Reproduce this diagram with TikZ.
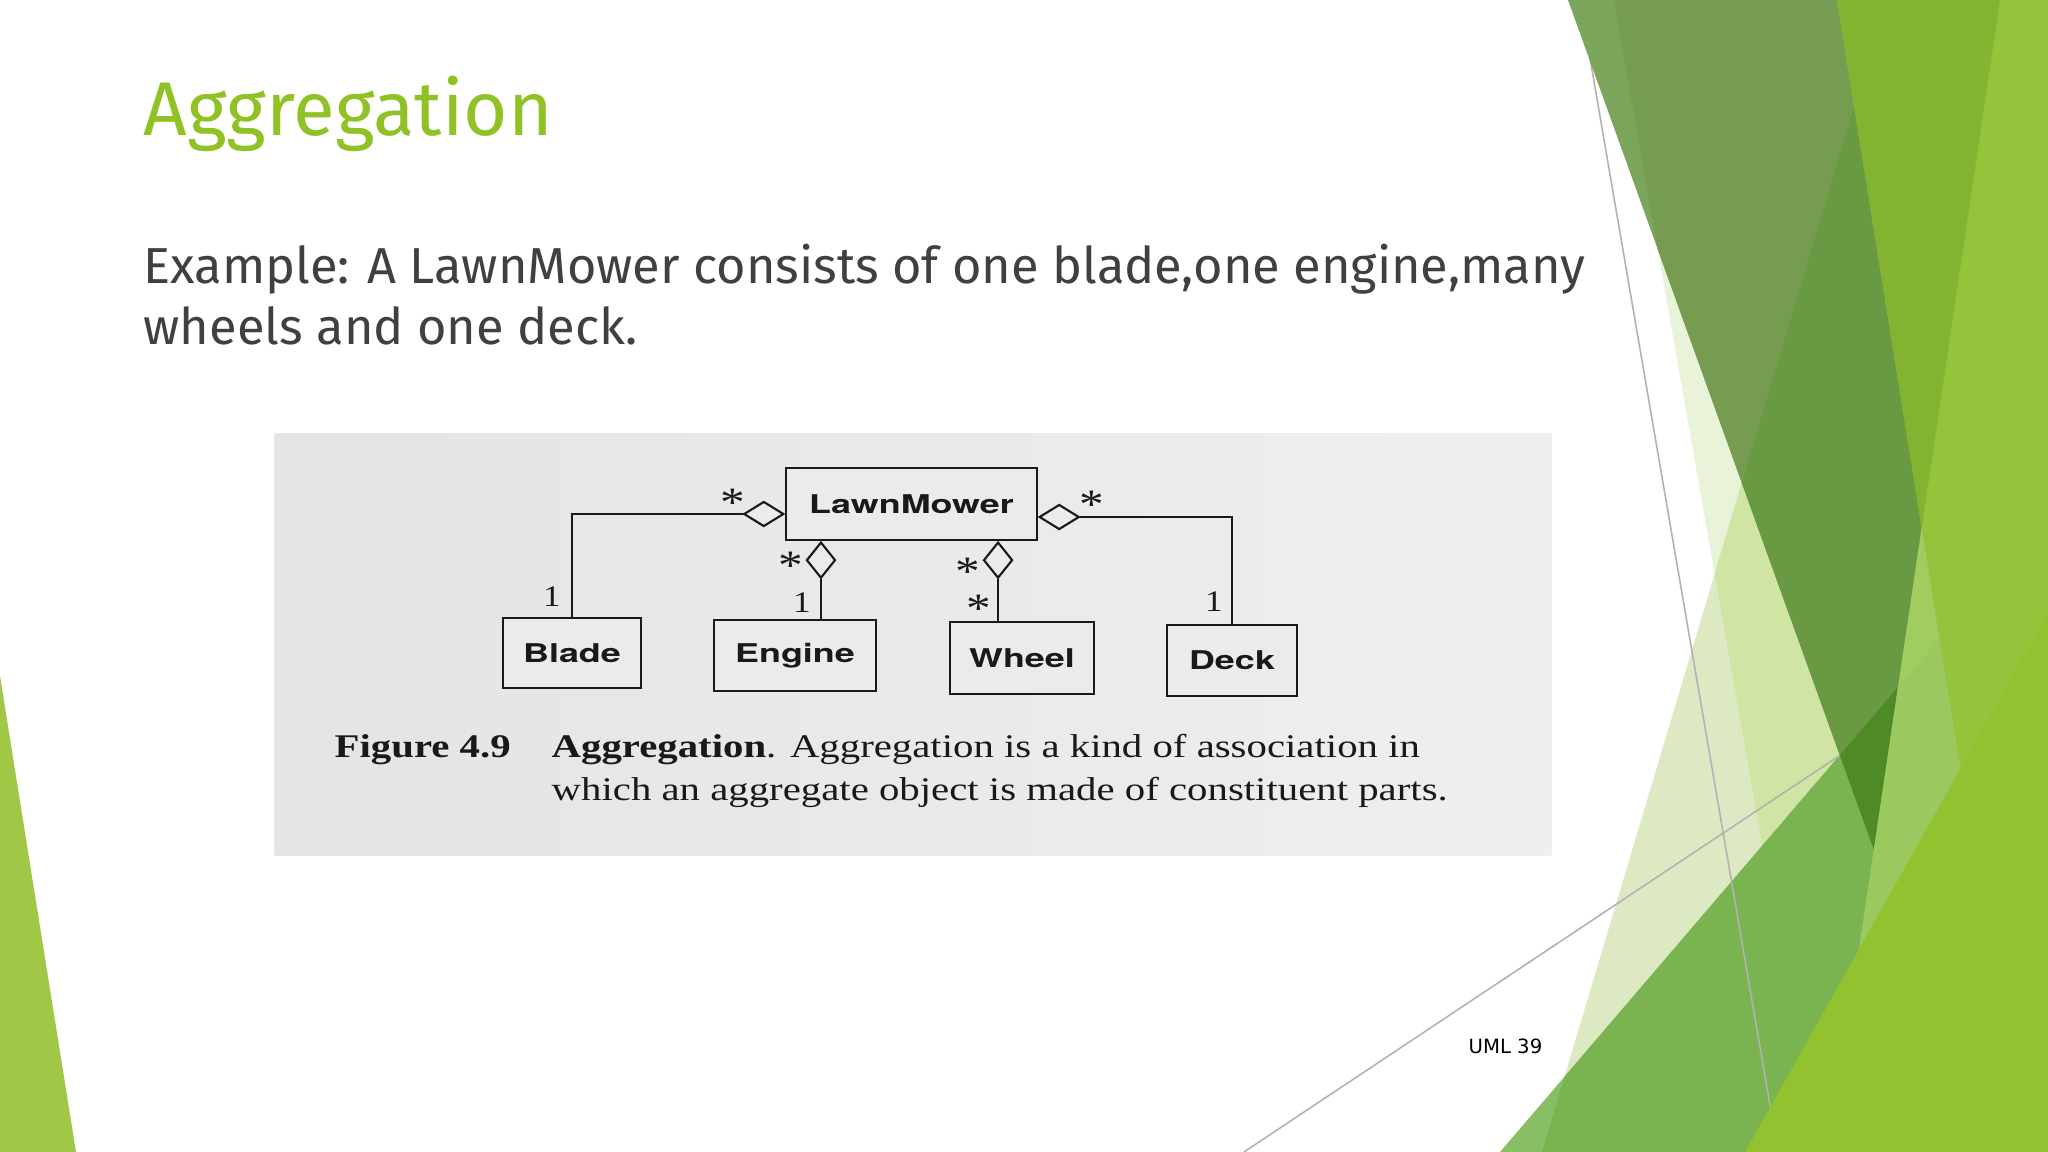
\documentclass[tikz,border=0pt]{standalone}
\usepackage{fontspec}
\usetikzlibrary{shapes.geometric}
\newfontfamily\trebf{Fira Sans}
\newfontfamily\helvf{TeX Gyre Heros}
\newfontfamily\timesf{Liberation Serif}
\newfontfamily\dejavuf{DejaVu Sans}
\definecolor{qonealone}{RGB}{233,243,218}
\definecolor{qtwoalone}{RGB}{221,233,195}
\definecolor{qboth}{RGB}{208,229,164}
\definecolor{malone}{RGB}{136,190,102}
\definecolor{mq}{RGB}{122,180,80}
\definecolor{oalone}{RGB}{122,165,90}
\definecolor{oqone}{RGB}{118,156,82}
\definecolor{oqboth}{RGB}{106,153,67}
\definecolor{om}{RGB}{78,138,37}
\definecolor{dcol}{RGB}{160,204,96}
\definecolor{dmcol}{RGB}{156,201,95}
\definecolor{cocol}{RGB}{130,180,49}
\definecolor{cdcol}{RGB}{149,196,60}
\definecolor{ycol}{RGB}{146,194,47}
\definecolor{wedgecol}{RGB}{160,200,70}
\definecolor{thinline}{RGB}{178,178,178}
\definecolor{titlegreen}{RGB}{144,194,38}
\definecolor{bodygray}{RGB}{64,64,64}
\definecolor{ink}{RGB}{25,25,25}
\definecolor{photobgl}{RGB}{229,227,227}
\definecolor{photobgr}{RGB}{240,238,238}
\definecolor{photobg}{RGB}{236,234,234}
\def\Qone{(1614,0) -- (2048,0) -- (2048,1152) -- (1816,1152) -- cycle}
\def\Qtwo{(1886,0) -- (2048,0) -- (2048,1152) -- (1542,1152) -- cycle}
\def\Mp{(1500,1152) -- (2048,512) -- (2048,1152) -- cycle}
\def\Op{(1568,0) -- (2000,0) -- (1874,850) -- cycle}
\def\Dp{(2000,0) -- (2048,0) -- (2048,1152) -- (1829,1152) -- cycle}
\def\Cp{(1837,0) -- (2048,0) -- (2048,1152) -- (2022,1152) -- cycle}
\def\Yp{(1745,1152) -- (2048,613) -- (2048,1152) -- cycle}
\def\Lw{(0,676) -- (76,1152) -- (0,1152) -- cycle}
\begin{document}
\begin{tikzpicture}[x=0.01cm,y=-0.01cm,
  umlbox/.style={draw=ink, line width=0.6pt, fill=photobg, inner sep=0pt,
    font=\helvf\bfseries\fontsize{10.2}{12}\selectfont, text=ink},
  aggh/.style={diamond, draw=ink, line width=0.6pt, fill=photobg, inner sep=0pt,
    minimum width=0.40cm, minimum height=0.25cm},
  aggv/.style={diamond, draw=ink, line width=0.6pt, fill=photobg, inner sep=0pt,
    minimum width=0.29cm, minimum height=0.36cm},
  conn/.style={draw=ink, line width=0.6pt},
  multone/.style={inner sep=0pt, font=\timesf\fontsize{10}{12}\selectfont, text=ink},
  multstar/.style={inner sep=0pt, font=\timesf\fontsize{14}{16}\selectfont, text=ink},
  captxt/.style={inner sep=0pt, anchor=base west, font=\timesf\fontsize{11.6}{14}\selectfont, text=ink}
]
\useasboundingbox (0,0) rectangle (2048,1152);
\fill[white] (0,0) rectangle (2048,1152);

% ---- decorative facets ----
\fill[qonealone] \Qone;
\fill[qtwoalone] \Qtwo;
\begin{scope}\clip \Qone; \fill[qboth] \Qtwo; \end{scope}
\fill[malone] \Mp;
\begin{scope}\clip \Qtwo; \fill[mq] \Mp; \end{scope}
\draw[thinline, line width=0.45pt] (1580,0) -- (1778,1152);
\draw[thinline, line width=0.45pt] (1244,1152) -- (1839,756);
\fill[oalone] \Op;
\begin{scope}\clip \Op; \fill[oqone] \Qone; \fill[oqboth] \Qtwo; \fill[om] \Mp; \end{scope}
\fill[dcol] \Dp;
\begin{scope}\clip \Dp; \fill[dmcol] \Mp; \end{scope}
\begin{scope}\clip \Cp; \fill[cdcol] \Cp; \fill[cocol] \Op; \end{scope}
\fill[ycol] \Yp;
\fill[wedgecol] \Lw;

% ---- texts ----
\node[inner sep=0pt, anchor=base west, text=titlegreen,
  font=\trebf\fontsize{21.65}{26}\selectfont] (title) at (143,136) {Aggregation};
\node[inner sep=0pt, anchor=base west, text=bodygray,
  font=\trebf\fontsize{14.38}{18}\selectfont] (bodyone) at (143,284)
  {Example: A LawnMower consists of one blade,one engine,many};
\node[inner sep=0pt, anchor=base west, text=bodygray,
  font=\trebf\fontsize{14.38}{18}\selectfont] (bodytwo) at (143,345)
  {wheels and one deck.};
\node[inner sep=0pt, anchor=base east, text=black,
  font=\dejavuf\fontsize{5.6}{7}\selectfont] (pagenum) at (1543,1053) {UML 39};

% ---- photo of the figure ----
\node[inner sep=0pt, minimum width=12.76cm, minimum height=4.22cm, anchor=north west,
  left color=photobgl, right color=photobgr] (photo) at (274,433) {};

\node[umlbox, minimum width=2.51cm, minimum height=0.72cm] (lm) at (911.5,504)
  {\scalebox{1}[0.72]{LawnMower}};
\node[umlbox, minimum width=1.38cm, minimum height=0.70cm] (blade) at (572,653)
  {\scalebox{1}[0.72]{Blade}};
\node[umlbox, minimum width=1.62cm, minimum height=0.71cm] (engine) at (795,655.5)
  {\scalebox{1}[0.72]{Engine}};
\node[umlbox, minimum width=1.44cm, minimum height=0.72cm] (wheel) at (1022,658)
  {\scalebox{1}[0.72]{Wheel}};
\node[umlbox, minimum width=1.30cm, minimum height=0.71cm] (deck) at (1232,660.5)
  {\scalebox{1}[0.72]{Deck}};

\node[aggh, anchor=east] (dl) at ([yshift=-0.10cm]lm.west) {};
\node[aggh, anchor=west] (dr) at ([yshift=-0.13cm]lm.east) {};
\node[aggv, anchor=north] (de) at ([xshift=-0.905cm]lm.south) {};
\node[aggv, anchor=north] (dw) at ([xshift=0.865cm]lm.south) {};

\draw[conn] (dl.west) -| (blade.north);
\draw[conn] (dr.east) -| (deck.north);
\draw[conn] (de.south) -- (de.south |- engine.north);
\draw[conn] (dw.south) -- (dw.south |- wheel.north);

\node[multstar] (sl) at (733,503) {\scalebox{1}[0.85]{*}};
\node[multone] (ob) at (552,597) {\scalebox{1}[0.85]{1}};
\node[multstar] (se) at (791,566) {\scalebox{1}[0.85]{*}};
\node[multone] (oe) at (802,603) {\scalebox{1}[0.85]{1}};
\node[multstar] (swa) at (968,572) {\scalebox{1}[0.85]{*}};
\node[multstar] (swb) at (979,609) {\scalebox{1}[0.85]{*}};
\node[multstar] (sr) at (1092,505) {\scalebox{1}[0.85]{*}};
\node[multone] (od) at (1214,602) {\scalebox{1}[0.85]{1}};

\node[captxt] (figlab) at (334,757) {\scalebox{1}[0.81]{\bfseries Figure 4.9}};
\node[captxt] (capone) at (551,757)
  {\scalebox{1}[0.81]{{\bfseries Aggregation}. Aggregation is a kind of association in}};
\node[captxt] (captwo) at (551,800)
  {\scalebox{1}[0.81]{which an aggregate object is made of constituent parts.}};
\end{tikzpicture}
\end{document}
